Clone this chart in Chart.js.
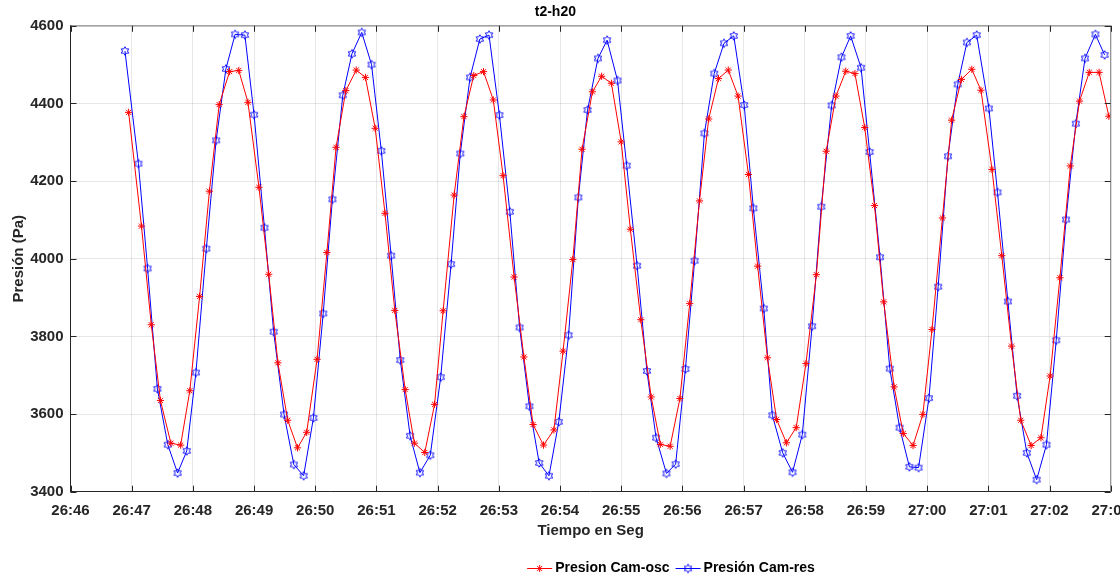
<!DOCTYPE html>
<html>
<head>
<meta charset="utf-8">
<script src="https://cdn.jsdelivr.net/npm/chart.js@4.4.1/dist/chart.umd.min.js"></script>
<style>
html,body{margin:0;padding:0;background:#fff;}
#wrap{width:1120px;height:577px;position:relative;}
</style>
</head>
<body>
<div id="wrap"><canvas id="c" width="1120" height="577"></canvas></div>
<script>
// ---- data (time in seconds after 26:00, pressure in Pa) ----
const xTickValues = [46,47,48,49,50,51,52,53,54,55,56,57,58,59,60,61,62,63];
const xTickLabels = ["26:46","26:47","26:48","26:49","26:50","26:51","26:52","26:53","26:54","26:55","26:56","26:57","26:58","26:59","27:00","27:01","27:02","27:03"];
const yTickValues = [3400,3600,3800,4000,4200,4400,4600];
const yTickLabels = ["3400","3600","3800","4000","4200","4400","4600"];

const redTime = [46.95,47.16,47.32,47.47,47.64,47.80,47.95,48.11,48.27,48.43,48.60,48.75,48.90,49.08,49.24,49.39,49.55,49.71,49.86,50.03,50.19,50.34,50.50,50.67,50.82,50.98,51.14,51.30,51.47,51.62,51.79,51.95,52.09,52.27,52.43,52.59,52.75,52.91,53.07,53.25,53.41,53.56,53.73,53.90,54.05,54.21,54.36,54.53,54.68,54.84,55.00,55.15,55.32,55.49,55.64,55.80,55.96,56.12,56.28,56.43,56.59,56.75,56.91,57.08,57.23,57.39,57.54,57.70,57.86,58.02,58.19,58.35,58.51,58.67,58.82,58.98,59.14,59.29,59.46,59.61,59.77,59.93,60.08,60.25,60.40,60.56,60.73,60.88,61.06,61.22,61.38,61.53,61.70,61.86,62.01,62.17,62.34,62.49,62.65,62.81,62.97];
const redValues = [4377,4084,3830,3635,3525,3520,3660,3903,4174,4397,4482,4485,4403,4184,3960,3732,3584,3513,3553,3741,4016,4287,4433,4486,4467,4336,4117,3867,3663,3525,3501,3625,3866,4164,4366,4472,4482,4409,4214,3953,3747,3573,3520,3559,3762,3998,4282,4430,4470,4452,4301,4076,3843,3644,3522,3517,3640,3885,4149,4360,4464,4486,4419,4217,3981,3745,3586,3526,3565,3730,3959,4277,4419,4483,4477,4338,4137,3889,3670,3550,3519,3599,3818,4105,4357,4462,4488,4434,4230,4008,3775,3584,3519,3539,3698,3951,4239,4406,4480,4480,4367];

const blueTime = [46.89,47.11,47.26,47.42,47.59,47.75,47.90,48.05,48.22,48.38,48.54,48.69,48.85,49.00,49.17,49.32,49.49,49.65,49.81,49.97,50.13,50.28,50.45,50.60,50.76,50.92,51.08,51.24,51.39,51.55,51.71,51.88,52.05,52.22,52.37,52.53,52.69,52.84,53.01,53.18,53.34,53.50,53.66,53.82,53.98,54.14,54.30,54.45,54.62,54.77,54.94,55.09,55.26,55.42,55.57,55.74,55.89,56.05,56.20,56.36,56.52,56.68,56.84,57.01,57.16,57.33,57.47,57.64,57.80,57.96,58.12,58.27,58.44,58.60,58.75,58.92,59.06,59.23,59.39,59.55,59.71,59.86,60.03,60.18,60.34,60.50,60.65,60.81,61.01,61.15,61.32,61.47,61.63,61.79,61.95,62.11,62.27,62.43,62.58,62.75,62.90];
const blueValues = [4535,4245,3975,3665,3521,3448,3505,3707,4026,4305,4489,4578,4576,4371,4080,3812,3599,3470,3441,3590,3859,4153,4421,4528,4583,4500,4278,4008,3739,3544,3449,3494,3695,3986,4271,4467,4566,4576,4370,4121,3823,3620,3474,3441,3580,3803,4158,4383,4516,4563,4459,4240,3982,3711,3539,3447,3471,3716,3995,4323,4477,4555,4574,4396,4130,3872,3597,3500,3450,3547,3826,4134,4395,4519,4574,4492,4275,4004,3717,3565,3464,3462,3641,3928,4264,4449,4557,4576,4387,4171,3890,3647,3500,3431,3521,3790,4101,4348,4516,4578,4525];

const seriesNames = ["Presion Cam-osc", "Presión Cam-res"];
const chartTitle = "t2-h20";
const xTitle = "Tiempo en Seg";
const yTitle = "Presión (Pa)";

// ---- styling ----
const FONT = "'Liberation Sans', Arial, Helvetica, sans-serif";
const AXIS = '#262626';
const RED = '#ff0000';
const BLUE = '#0000ff';

function hexagram(r, color) {
  const s = Math.ceil(r * 2 + 3);
  const c = document.createElement('canvas');
  c.width = s; c.height = s;
  const g = c.getContext('2d');
  const cx = s / 2, cy = s / 2, ri = r / Math.sqrt(3);
  g.beginPath();
  for (let i = 0; i < 12; i++) {
    const a = -Math.PI / 2 + i * Math.PI / 6;
    const rr = (i % 2 === 0) ? r : ri;
    const px = cx + rr * Math.cos(a), py = cy + rr * Math.sin(a);
    if (i === 0) g.moveTo(px, py); else g.lineTo(px, py);
  }
  g.closePath();
  g.strokeStyle = color; g.lineWidth = 0.9; g.stroke();
  return c;
}
const hexImg = hexagram(4.3, BLUE);

function toXY(ts, vs) { return ts.map((t, i) => ({x: t, y: vs[i]})); }

function drawStar(ctx, x, y, r, color) {
  ctx.save();
  ctx.strokeStyle = color; ctx.lineWidth = 1;
  ctx.beginPath();
  ctx.moveTo(x - r, y); ctx.lineTo(x + r, y);
  ctx.moveTo(x, y - r); ctx.lineTo(x, y + r);
  const d = r * 0.7071;
  ctx.moveTo(x - d, y - d); ctx.lineTo(x + d, y + d);
  ctx.moveTo(x - d, y + d); ctx.lineTo(x + d, y - d);
  ctx.stroke();
  ctx.restore();
}

const framePlugin = {
  id: 'frame',
  afterDraw(chart) {
    const {ctx, chartArea: a, scales: {x, y}} = chart;
    ctx.save();
    // top and right box edges
    ctx.strokeStyle = '#8c8c8c';
    ctx.lineWidth = 1.2;
    ctx.beginPath();
    ctx.moveTo(a.left, a.top); ctx.lineTo(a.right, a.top); ctx.lineTo(a.right, a.bottom);
    ctx.stroke();
    // inward ticks
    ctx.strokeStyle = AXIS;
    ctx.lineWidth = 1;
    const L = 6;
    ctx.beginPath();
    xTickValues.forEach(v => {
      const px = Math.round(x.getPixelForValue(v)) + 0.5;
      ctx.moveTo(px, a.bottom); ctx.lineTo(px, a.bottom - L);
      ctx.moveTo(px, a.top); ctx.lineTo(px, a.top + L);
    });
    yTickValues.forEach(v => {
      const py = Math.round(y.getPixelForValue(v)) + 0.5;
      ctx.moveTo(a.left, py); ctx.lineTo(a.left + L, py);
      ctx.moveTo(a.right, py); ctx.lineTo(a.right - L, py);
    });
    ctx.stroke();
    ctx.restore();

    // legend
    ctx.save();
    ctx.font = 'bold 14px ' + FONT;
    ctx.textBaseline = 'middle';
    ctx.fillStyle = '#000';
    const lineLen = 25, gap1 = 3, gap2 = 6;
    const w0 = ctx.measureText(seriesNames[0]).width;
    const w1 = ctx.measureText(seriesNames[1]).width;
    const total = lineLen + gap1 + w0 + gap2 + lineLen + gap1 + w1;
    let lx = 671 - total / 2;
    const ly = 568;
    // red
    ctx.strokeStyle = RED; ctx.lineWidth = 1;
    ctx.beginPath(); ctx.moveTo(lx, ly + 0.5); ctx.lineTo(lx + lineLen, ly + 0.5); ctx.stroke();
    drawStar(ctx, lx + lineLen / 2, ly + 0.5, 3.5, RED);
    lx += lineLen + gap1;
    ctx.fillText(seriesNames[0], lx, ly);
    lx += w0 + gap2;
    // blue
    ctx.strokeStyle = BLUE;
    ctx.beginPath(); ctx.moveTo(lx, ly + 0.5); ctx.lineTo(lx + lineLen, ly + 0.5); ctx.stroke();
    ctx.drawImage(hexImg, lx + lineLen / 2 - hexImg.width / 2, ly + 0.5 - hexImg.height / 2);
    lx += lineLen + gap1;
    ctx.fillText(seriesNames[1], lx, ly);
    ctx.restore();
  }
};

new Chart(document.getElementById('c'), {
  type: 'line',
  data: {
    datasets: [
      {
        label: seriesNames[0],
        data: toXY(redTime, redValues),
        borderColor: RED,
        backgroundColor: RED,
        borderWidth: 1,
        pointStyle: 'star',
        pointRadius: 3.6,
        pointBorderWidth: 1,
        pointBorderColor: RED,
        pointHoverRadius: 3.6,
        tension: 0,
        fill: false
      },
      {
        label: seriesNames[1],
        data: toXY(blueTime, blueValues),
        borderColor: BLUE,
        backgroundColor: BLUE,
        borderWidth: 1,
        pointStyle: hexImg,
        pointRadius: 4,
        pointHoverRadius: 4,
        tension: 0,
        fill: false
      }
    ]
  },
  options: {
    responsive: false,
    animation: false,
    devicePixelRatio: 1,
    layout: {padding: {left: 0, right: 9.3, top: 0, bottom: 0}},
    plugins: {
      legend: {display: false},
      tooltip: {enabled: false},
      title: {
        display: true,
        text: chartTitle,
        color: '#000',
        font: {family: FONT, size: 14, weight: 'bold'},
        padding: {top: 4, bottom: 5}
      }
    },
    scales: {
      x: {
        type: 'linear',
        min: 46, max: 63,
        afterBuildTicks: s => { s.ticks = xTickValues.map(v => ({value: v})); },
        ticks: {
          callback: (v, i) => xTickLabels[i],
          color: AXIS,
          font: {family: FONT, size: 15, weight: 'bold'},
          padding: 10,
          maxRotation: 0,
          autoSkip: false
        },
        grid: {color: 'rgba(38,38,38,0.11)', drawTicks: false, lineWidth: 1},
        border: {display: true, color: AXIS, width: 1},
        title: {
          display: true, text: xTitle, color: AXIS,
          font: {family: FONT, size: 15, weight: 'bold'},
          padding: {top: 0, bottom: 37}
        },
        afterFit: s => { s.height = 577 - 491.7; s.paddingLeft = 0; s.paddingRight = 0; }
      },
      y: {
        type: 'linear',
        min: 3400, max: 4600,
        afterBuildTicks: s => { s.ticks = yTickValues.map(v => ({value: v})); },
        ticks: {
          callback: (v, i) => yTickLabels[i],
          color: AXIS,
          font: {family: FONT, size: 15, weight: 'bold'},
          padding: 7
        },
        grid: {color: 'rgba(38,38,38,0.11)', drawTicks: false, lineWidth: 1},
        border: {display: true, color: AXIS, width: 1},
        title: {
          display: true, text: yTitle, color: AXIS,
          font: {family: FONT, size: 15, weight: 'bold'},
          padding: {top: 10, bottom: 0}
        },
        afterFit: s => { s.width = 70.5; s.paddingTop = 0; s.paddingBottom = 0; }
      }
    }
  },
  plugins: [framePlugin]
});
</script>
</body>
</html>
